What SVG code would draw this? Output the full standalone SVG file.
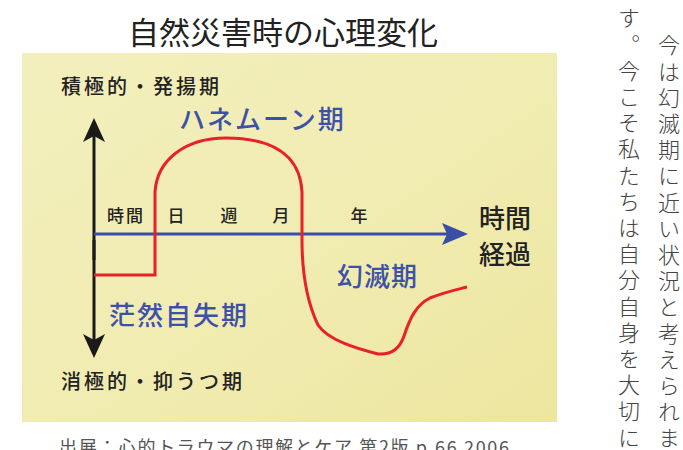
<svg xmlns="http://www.w3.org/2000/svg" width="683" height="450" viewBox="0 0 683 450">
<defs>
<linearGradient id="bg" x1="0" y1="0" x2="1" y2="1">
<stop offset="0" stop-color="#f3efbd"/>
<stop offset="0.5" stop-color="#f1ecb2"/>
<stop offset="1" stop-color="#ede6a0"/>
</linearGradient>
<marker id="ab" viewBox="0 0 24 24" markerWidth="24" markerHeight="24" refX="20" refY="12" orient="auto" markerUnits="userSpaceOnUse">
<path d="M0,1 L24,12 L0,23 L6,12 Z" fill="#1a1a1a"/>
</marker>
<marker id="ablue" viewBox="0 0 26 22" markerWidth="26" markerHeight="22" refX="22" refY="11" orient="auto" markerUnits="userSpaceOnUse">
<path d="M0,0 L26,11 L0,22 L5,11 Z" fill="#3a4ea6"/>
</marker>
</defs>
<style>
.j{font-family:"Noto Sans CJK JP","Noto Sans CJK SC",sans-serif}
.k{fill:#222}
.b{fill:#3d52a6}
.v{font-family:"Noto Sans CJK JP",sans-serif;font-size:22px;fill:#444;writing-mode:vertical-rl;letter-spacing:4.2px;font-weight:300}
</style>
<rect width="683" height="450" fill="#ffffff"/>
<text class="j k" x="283" y="44" font-size="31" text-anchor="middle">自然災害時の心理変化</text>
<rect x="22" y="53" width="535" height="369" fill="url(#bg)"/>
<g id="connectors">
<line x1="94" y1="260" x2="94" y2="122" stroke="#1a1a1a" stroke-width="3" marker-end="url(#ab)"/>
<line x1="94" y1="240" x2="94" y2="354" stroke="#1a1a1a" stroke-width="3" marker-end="url(#ab)"/>
<line x1="94" y1="234" x2="464" y2="234" stroke="#3a4ea6" stroke-width="3" marker-end="url(#ablue)"/>
<path d="M94,275 L155,275 L155,192 C157,160 185,138 226,138 C268,138 300,152 302,192 L302,240 C302,270 306,300 318,325 C328,340 355,348 378,354 C392,355 400,348 404,336 C410,318 416,305 430,298 C445,292 455,290 467,287" fill="none" stroke="#e8202a" stroke-width="3"/>
</g>
<g id="n-positive"><text class="j k" x="61" y="94" font-size="20" letter-spacing="3" font-weight="500">積極的・発揚期</text></g>
<g id="n-honeymoon"><text class="j b" x="179" y="129" font-size="26" letter-spacing="2" font-weight="500">ハネムーン期</text></g>
<g id="n-time-labels" class="j k" font-size="17" font-weight="500">
<text x="107" y="222" letter-spacing="2">時間</text>
<text x="176" y="222" text-anchor="middle">日</text>
<text x="229" y="222" text-anchor="middle">週</text>
<text x="281" y="222" text-anchor="middle">月</text>
<text x="359" y="222" text-anchor="middle">年</text>
</g>
<g id="n-elapsed" class="j k" font-size="26" font-weight="500">
<text x="479" y="228">時間</text>
<text x="479" y="264">経過</text>
</g>
<g id="n-disillusion"><text class="j b" x="337" y="286" font-size="26" letter-spacing="1" font-weight="500">幻滅期</text></g>
<g id="n-daze"><text class="j b" x="109" y="325" font-size="26" letter-spacing="2" font-weight="500">茫然自失期</text></g>
<g id="n-negative"><text class="j k" x="61" y="389" font-size="20" letter-spacing="3" font-weight="500">消極的・抑うつ期</text></g>
<text class="j" x="59" y="454" font-size="18" fill="#555" textLength="450" lengthAdjust="spacing">出展：心的トラウマの理解とケア 第2版 p.66 2006</text>
<text class="v" x="669" y="34">今は幻滅期に近い状況と考えられま</text>
<text class="v" x="629" y="7">す。今こそ私たちは自分自身を大切に</text>
</svg>
